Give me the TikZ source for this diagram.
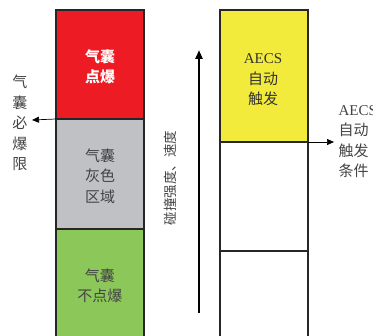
\documentclass[tikz,border=0pt]{standalone}
\usepackage{fontspec}
\setmainfont{Liberation Serif}
\newfontfamily\cjk{Noto Sans CJK SC}
\usetikzlibrary{arrows.meta}
\definecolor{cred}{HTML}{ED1C24}
\definecolor{cgray}{HTML}{BFC1C5}
\definecolor{cgreen}{HTML}{8CC75A}
\definecolor{cyellow}{HTML}{F3EB3C}
\definecolor{ctext}{HTML}{444444}
\tikzset{
  zone/.style={draw=black!85, line width=1.2pt, minimum width=88pt, inner sep=0pt, outer sep=0pt},
  ztext/.style={align=center, font=\cjk\fontsize{15}{20.5}\selectfont, text=ctext},
  arr/.style={-{Triangle[length=7pt,width=6pt]}, line width=0.7pt},
}
\begin{document}
\begin{tikzpicture}[x=1pt,y=-1pt]
\useasboundingbox (0,0) rectangle (373,336);
% left column
\node[zone, fill=cred, minimum height=109pt, anchor=north west] (red) at (56,10) {};
\node[zone, fill=cgray, minimum height=110pt, anchor=north west] (gray) at (56,119) {};
\node[zone, fill=cgreen, minimum height=120pt, anchor=north west] (green) at (56,229) {};
\node[ztext, text=white, font=\cjk\bfseries\fontsize{15}{20.5}\selectfont] (redt) at (100,67) {气囊\\点爆};
\node[ztext] (grayt) at (100,176) {气囊\\灰色\\区域};
\node[ztext] (greent) at (100,286) {气囊\\不点爆};
% left arrow and label
\coordinate (la) at (32,120);
\draw[arr] (red.south west) -- (la);
\node[ztext] (ltext) at (20,123) {气\\囊\\必\\爆\\限};
% right column
\node[zone, fill=cyellow, minimum height=132pt, anchor=north west] (yel) at (220,10) {};
\node[zone, fill=white, minimum height=109pt, anchor=north west] (w1) at (220,142) {};
\node[zone, fill=white, minimum height=120pt, anchor=north west] (w2) at (220,251) {};
\node[ztext, text=black!80] (yelt) at (263,80) {{\rmfamily AECS}\\自动\\触发};
% right arrow and label
\coordinate (ra) at (334,142);
\draw[arr] (yel.south east) -- (ra);
\node[ztext, align=left, anchor=north west] (rtext) at (335,102) {{\rmfamily AECS}\\自动\\触发\\条件};
% big arrow
\coordinate (bs) at (199,313);
\coordinate (be) at (199,50);
\draw[-{Triangle[length=9pt,width=7pt]}, line width=2.8pt] (bs) -- (be);
\node[ztext, rotate=90, font=\cjk\fontsize{13.5}{16}\selectfont] (btext) at (170,178) {碰撞强度、速度};
\end{tikzpicture}
\end{document}
